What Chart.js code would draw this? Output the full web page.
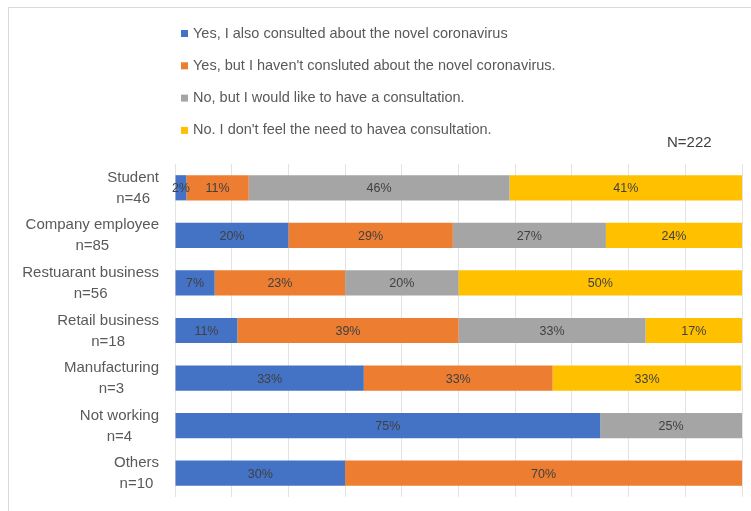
<!DOCTYPE html>
<html>
<head>
<meta charset="utf-8">
<script src="https://cdn.jsdelivr.net/npm/chart.js@4"></script>
<style>
  html, body { margin: 0; padding: 0; background: #fff; }
  #wrap { position: relative; width: 751px; height: 511px; overflow: hidden; }
  #frame { position: absolute; left: 8px; top: 7px; width: 800px; height: 600px;
           border: 1px solid #d9d9d9; box-sizing: border-box; }
  canvas { position: absolute; left: 0; top: 0; }
</style>
</head>
<body>
<div id="wrap">
  <div id="frame"></div>
  <canvas id="myChart" width="751" height="511"></canvas>
</div>
<script>
const categories = ['Student', 'Company employee', 'Restuarant business', 'Retail business',
                    'Manufacturing', 'Not working', 'Others'];
const sampleSizes = ['n=46', 'n=85', 'n=56', 'n=18', 'n=3', 'n=4', 'n=10'];

const seriesNames = [
    'Yes, I also consulted about the novel coronavirus',
    "Yes, but I haven't consluted about the novel coronavirus.",
    'No, but I would like to have a consultation.',
    "No. I don't feel the need to havea consultation."
];
const consultedYes = [2, 20, 7, 11, 33.3, 75, 30];
const notConsulted = [11, 29, 23, 39, 33.3, 0, 70];
const wouldLike = [46, 27, 20, 33, 0, 25, 0];
const noNeed = [41, 24, 50, 17, 33.3, 0, 0];
const seriesColors = ['#4472C4', '#ED7D31', '#A5A5A5', '#FFC000'];
const totalLabel = 'N=222';

const textColor = '#595959';
const fontFamily = "'Liberation Sans', Arial, sans-serif";

// percentage text inside each bar segment
const barLabels = {
    id: 'barLabels',
    afterDatasetsDraw(chart) {
        const ctx = chart.ctx;
        ctx.save();
        ctx.font = '12.5px ' + fontFamily;
        ctx.fillStyle = '#404040';
        ctx.textAlign = 'center';
        ctx.textBaseline = 'middle';
        chart.data.datasets.forEach((ds, di) => {
            const meta = chart.getDatasetMeta(di);
            meta.data.forEach((bar, i) => {
                const v = ds.data[i];
                if (!v) return;
                const p = bar.getProps(['x', 'y', 'base'], true);
                ctx.fillText(Math.round(v) + '%', (p.x + p.base) / 2, p.y + 1);
            });
        });
        ctx.restore();
    }
};

// legend list, category labels and N text
const extras = {
    id: 'extras',
    afterDraw(chart) {
        const ctx = chart.ctx;
        const yScale = chart.scales.y;
        ctx.save();

        // legend, one item per line
        ctx.font = '14.5px ' + fontFamily;
        ctx.textBaseline = 'middle';
        ctx.textAlign = 'left';
        chart.data.datasets.forEach((ds, i) => {
            const y = 33.5 + i * 32.3;
            ctx.fillStyle = ds.backgroundColor;
            ctx.fillRect(181, y - 3.5, 7, 7);
            ctx.fillStyle = textColor;
            ctx.fillText(ds.label, 193, y);
        });

        // N
        ctx.font = '15px ' + fontFamily;
        ctx.fillStyle = '#404040';
        ctx.fillText(totalLabel, 667, 143);

        // two-line category labels, lines centred within a right-aligned block
        ctx.font = '15px ' + fontFamily;
        ctx.fillStyle = textColor;
        ctx.textAlign = 'center';
        categories.forEach((c, i) => {
            const y = yScale.getPixelForValue(i);
            const w = Math.max(ctx.measureText(c).width, ctx.measureText(sampleSizes[i]).width);
            const cx = 159 - w / 2;
            ctx.fillText(c, cx, y - 10);
            ctx.fillText(sampleSizes[i], cx, y + 11);
        });
        ctx.restore();
    }
};

const datasets = [consultedYes, notConsulted, wouldLike, noNeed].map((vals, i) => ({
    label: seriesNames[i],
    data: vals,
    backgroundColor: seriesColors[i],
    borderWidth: 0,
    barPercentage: 0.53,
    categoryPercentage: 1.0
}));

const ctx = document.getElementById('myChart').getContext('2d');
const myChart = new Chart(ctx, {
    type: 'bar',
    data: {
        labels: categories,
        datasets: datasets
    },
    options: {
        indexAxis: 'y',
        responsive: false,
        animation: false,
        layout: {
            padding: { left: 175, right: 9, top: 164, bottom: 14 }
        },
        scales: {
            x: {
                stacked: true,
                min: 0,
                max: 100,
                ticks: { display: false, stepSize: 10 },
                grid: { color: '#e3e3e3', drawTicks: false },
                border: { display: false }
            },
            y: {
                stacked: true,
                display: false
            }
        },
        plugins: {
            legend: { display: false },
            tooltip: { enabled: false }
        }
    },
    plugins: [barLabels, extras]
});
</script>
</body>
</html>
